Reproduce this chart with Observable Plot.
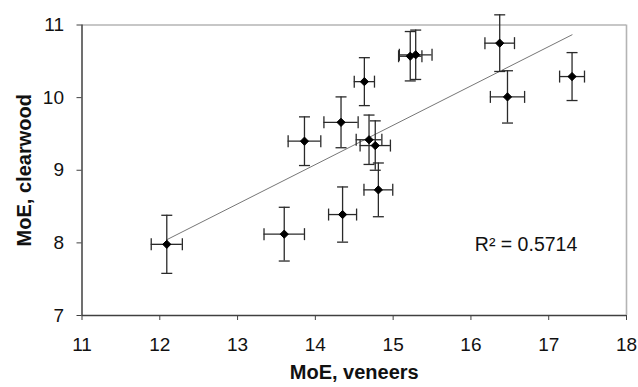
<!DOCTYPE html>
<html>
<head>
<meta charset="utf-8">
<script src="https://cdn.jsdelivr.net/npm/d3@7"></script>
<script src="https://cdn.jsdelivr.net/npm/@observablehq/plot@0.6"></script>
<style>
  html, body { margin: 0; padding: 0; background: #fff; }
  #chart svg { display: block; }
</style>
</head>
<body>
<div id="chart"></div>
<script>
// ---- data ----
const veneers   = [12.09, 13.60, 14.35, 13.86, 14.33, 14.63, 14.69, 14.77, 14.81, 15.22, 15.29, 16.37, 16.47, 17.30];
const clearwood = [7.98, 8.12, 8.39, 9.40, 9.66, 10.22, 9.42, 9.34, 8.73, 10.57, 10.59, 10.75, 10.01, 10.29];
const veneersErr   = [0.20, 0.26, 0.18, 0.21, 0.22, 0.13, 0.165, 0.195, 0.185, 0.15, 0.21, 0.19, 0.22, 0.16];
const clearwoodErr = [0.40, 0.37, 0.38, 0.335, 0.35, 0.33, 0.34, 0.34, 0.37, 0.34, 0.34, 0.39, 0.36, 0.33];
const xTicks = [11, 12, 13, 14, 15, 16, 17, 18];
const yTicks = [7, 8, 9, 10, 11];
const xTitle = ["MoE, veneers"];
const yTitle = ["MoE, clearwood"];
const r2Note = [{x: 16.05, y: 7.98, text: "R\u00B2 = 0.5714"}];

const data = veneers.map((x, i) => ({x, y: clearwood[i], xe: veneersErr[i], ye: clearwoodErr[i]}));

// cap symbols (pixel-size line segments)
const hCap = {draw(ctx, size) { const r = Math.sqrt(size / Math.PI); ctx.moveTo(-r, 0); ctx.lineTo(r, 0); }};
const vCap = {draw(ctx, size) { const r = Math.sqrt(size / Math.PI); ctx.moveTo(0, -r); ctx.lineTo(0, r); }};

const barColor = "#2a2a2a";

const chart = Plot.plot({
  width: 638,
  height: 387,
  marginLeft: 81.5,
  marginRight: 12,
  marginTop: 24.5,
  marginBottom: 72,
  x: {domain: [11, 18]},
  y: {domain: [7, 11]},
  style: {fontFamily: "'Liberation Sans', Arial, sans-serif", background: "#fff", color: "#000"},
  marks: [
    Plot.ruleY([yTicks[yTicks.length - 1]], {stroke: "#b4b4b4", strokeWidth: 1.6}),
    Plot.ruleX([xTicks[xTicks.length - 1]], {stroke: "#b4b4b4", strokeWidth: 1.6}),
    Plot.ruleX([xTicks[0]], {stroke: "#404040", strokeWidth: 1.5}),
    Plot.ruleY([yTicks[0]], {stroke: "#404040", strokeWidth: 1.5}),
    Plot.linearRegressionY(data, {x: "x", y: "y", ci: 0, stroke: "#666", strokeWidth: 0.9}),
    Plot.ruleX(data, {x: "x", y1: d => d.y - d.ye, y2: d => d.y + d.ye, stroke: barColor, strokeWidth: 1.3}),
    Plot.ruleY(data, {y: "y", x1: d => d.x - d.xe, x2: d => d.x + d.xe, stroke: barColor, strokeWidth: 1.3}),
    Plot.dot(data, {x: "x", y: d => d.y + d.ye, symbol: hCap, r: 5.5, fill: "none", stroke: barColor, strokeWidth: 1.3}),
    Plot.dot(data, {x: "x", y: d => d.y - d.ye, symbol: hCap, r: 5.5, fill: "none", stroke: barColor, strokeWidth: 1.3}),
    Plot.dot(data, {x: d => d.x - d.xe, y: "y", symbol: vCap, r: 6, fill: "none", stroke: barColor, strokeWidth: 1.3}),
    Plot.dot(data, {x: d => d.x + d.xe, y: "y", symbol: vCap, r: 6, fill: "none", stroke: barColor, strokeWidth: 1.3}),
    Plot.dot(data, {x: "x", y: "y", symbol: "diamond2", r: 3.7, fill: "#000", stroke: "#000", strokeWidth: 1}),
    Plot.axisX({ticks: xTicks, tickSize: 5, tickPadding: 17, tickFormat: d => String(d), label: null, fontSize: 19, stroke: "#404040", fill: "#111"}),
    Plot.axisY({ticks: yTicks, tickSize: 5, tickPadding: 13, tickFormat: d => String(d), label: null, fontSize: 19, stroke: "#404040", fill: "#111"}),
    Plot.text(xTitle, {frameAnchor: "bottom", dy: 63, text: d => d, textAnchor: "middle", fontSize: 20, fontWeight: "bold", fill: "#111"}),
    Plot.text(yTitle, {frameAnchor: "left", dx: -57.5, rotate: -90, text: d => d, textAnchor: "middle", fontSize: 20, fontWeight: "bold", fill: "#111"}),
    Plot.text(r2Note, {x: "x", y: "y", text: "text", textAnchor: "start", fontSize: 19.5, fill: "#111"})
  ]
});

document.getElementById("chart").appendChild(chart);
</script>
</body>
</html>
